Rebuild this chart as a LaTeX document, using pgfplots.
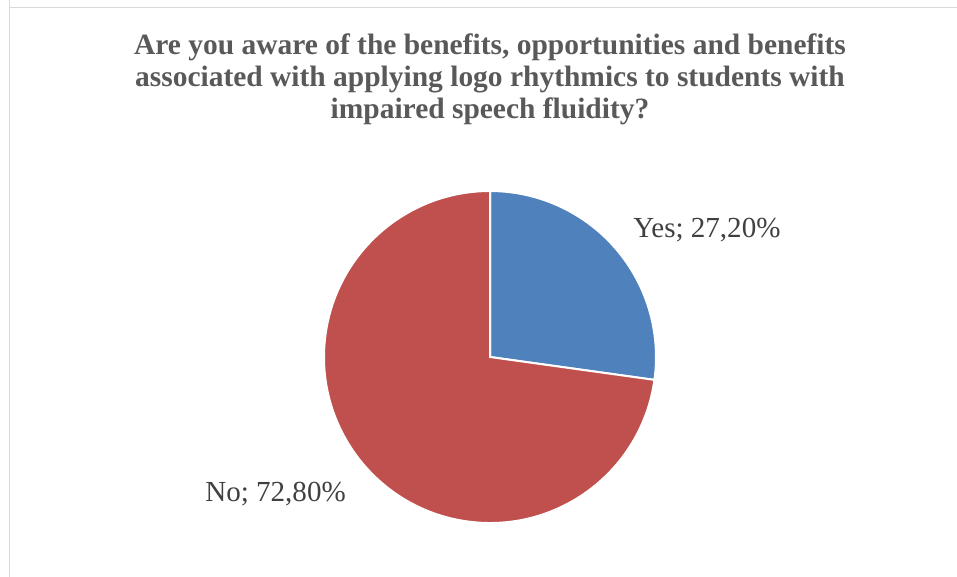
\documentclass[border=0pt]{standalone}
\usepackage{pgfplots}
\pgfplotsset{compat=1.18}
\usetikzlibrary{calc}
\usepackage{fontspec}
\setmainfont{Liberation Serif}
\definecolor{pieblue}{HTML}{4F81BD}
\definecolor{piered}{HTML}{C0504D}
\definecolor{titlegray}{HTML}{595959}
\definecolor{labelgray}{HTML}{404040}
\definecolor{bordergray}{HTML}{D9D9D9}
\begin{document}
\begin{tikzpicture}
\useasboundingbox (0,0) rectangle (717.75pt,432pt);
\begin{axis}[
  anchor=origin, at={(0pt,0pt)},
  x=0.75pt, y=0.75pt,
  xmin=0, xmax=957, ymin=0, ymax=576,
  hide axis, clip=false,
]
% data: Yes 27.2, No 72.8
\pgfmathsetmacro{\yes}{27.2}
\pgfmathsetmacro{\no}{72.8}
\pgfmathsetmacro{\yesend}{90-3.6*\yes}
% border
\draw[bordergray, line width=1.2pt] (axis cs:9.5,580) -- (axis cs:9.5,568.5) -- (axis cs:965,568.5);
\draw[bordergray, line width=1.2pt] (axis cs:9.5,568.5) -- (axis cs:9.5,-5);
% slices
\fill[pieblue, draw=white, line width=1.5pt] (axis cs:490,219) -- (axis cs:490,385) arc[start angle=90, end angle=\yesend, radius=124.5pt] -- cycle;
\fill[piered, draw=white, line width=1.5pt] (axis cs:490,219) -- ($(axis cs:490,219)+(\yesend:124.5pt)$) arc[start angle=\yesend, end angle=-270, radius=124.5pt] -- cycle;
% labels
\node[anchor=base west, inner sep=0pt, text=labelgray, font=\fontsize{21.8}{25}\selectfont] at (axis cs:633,339) {Yes; 27,20\%};
\node[anchor=base west, inner sep=0pt, text=labelgray, font=\fontsize{21.8}{25}\selectfont] at (axis cs:205,74.5) {No; 72,80\%};
% title
\node[anchor=base, inner sep=0pt, text=titlegray, font=\fontsize{22.1}{24}\selectfont\bfseries] at (axis cs:490,521) {Are you aware of the benefits, opportunities and benefits};
\node[anchor=base, inner sep=0pt, text=titlegray, font=\fontsize{22.1}{24}\selectfont\bfseries] at (axis cs:490,489) {associated with applying logo rhythmics to students with};
\node[anchor=base, inner sep=0pt, text=titlegray, font=\fontsize{22.1}{24}\selectfont\bfseries] at (axis cs:490,457) {impaired speech fluidity?};
\end{axis}
\end{tikzpicture}
\end{document}
